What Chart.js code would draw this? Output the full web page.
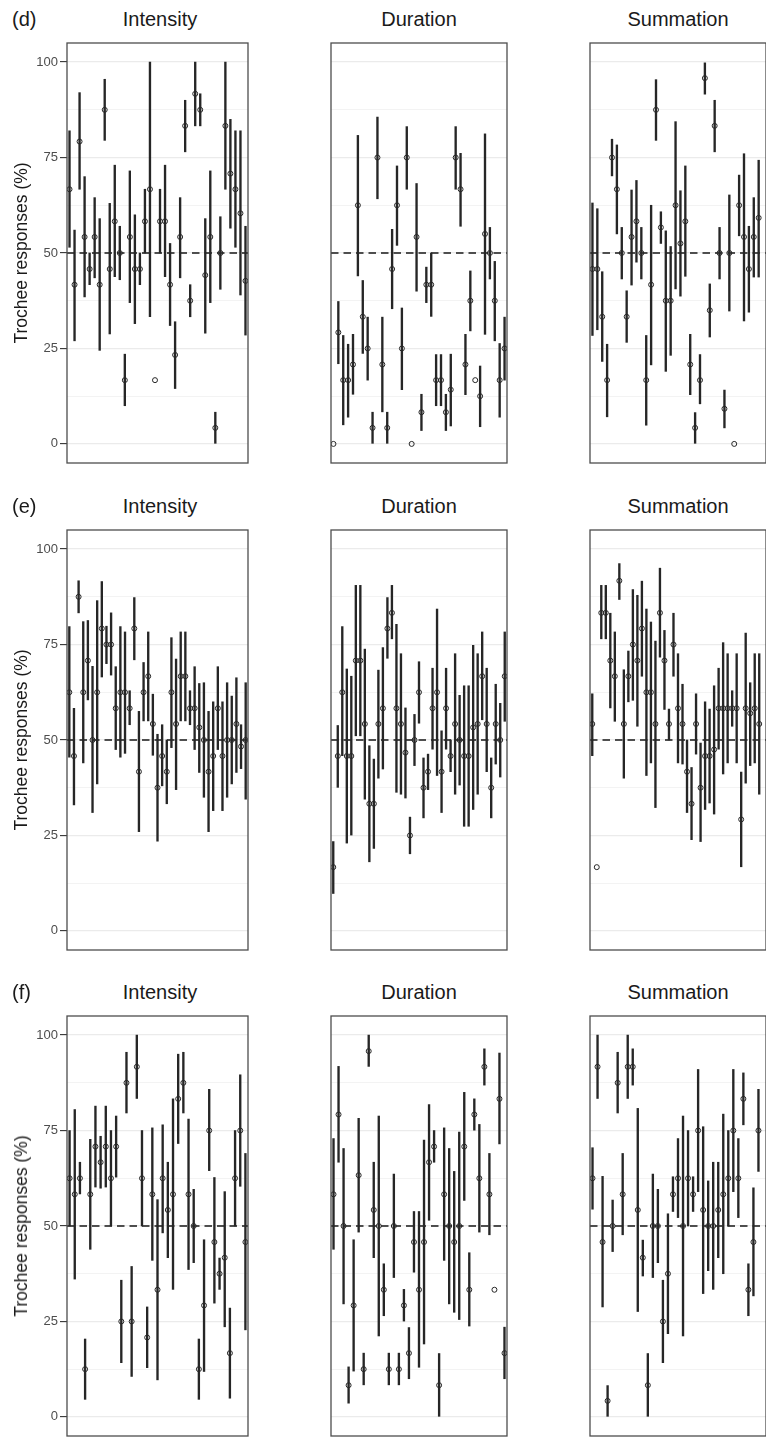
<!DOCTYPE html>
<html>
<head>
<meta charset="utf-8">
<script src="https://cdn.jsdelivr.net/npm/chart.js@4.4.0/dist/chart.umd.min.js"></script>
<style>
  body { margin: 0; width: 766px; height: 1443px; overflow: hidden; background: #fff; position: relative;
         font-family: "Liberation Sans", Arial, sans-serif; }
  .box { position: absolute; }
  .txt { position: absolute; white-space: nowrap; color: #1a1a1a; }
  .title { font-size: 20px; line-height: 20px; transform: translateX(-50%); }
  .tag { font-size: 20px; line-height: 20px; }
  .ytitle { font-size: 17.5px; line-height: 18px; transform: translate(-50%, -50%) rotate(-90deg); }
</style>
</head>
<body>
<script>
const ROW_LABELS = ['(d)', '(e)', '(f)'];
const CATEGORIES = ['Intensity', 'Duration', 'Summation'];
const Y_TICKS = [0, 25, 50, 75, 100];
const MINOR_TICKS = [12.5, 37.5, 62.5, 87.5];
const REF_LEVEL = 50;
const Y_TITLE = 'Trochee responses (%)';

// (d)
const dIntMean = [66.7, 41.7, 79.2, 54.2, 45.8, 54.2, 41.7, 87.5, 45.8, 58.3, 50, 16.7, 54.2, 45.8, 45.8, 58.3, 66.7, 16.7, 58.3, 58.3, 41.7, 23.3, 54.2, 83.3, 37.5, 91.7, 87.5, 44.2, 54.2, 4.2, 50, 83.3, 70.8, 66.7, 60.4, 42.7];
const dIntLow  = [51.5, 27, 66.7, 38.5, 41.7, 43.5, 24.5, 79.5, 28.8, 43.8, 43, 10, 37, 31.5, 41.7, 50, 33.3, null, 50, 43.8, 31, 14.5, 43.5, 76.5, 33.3, 83.3, 83.3, 29, 37, 0, 40.5, 66.7, 56.5, 51.5, 39, 28.5];
const dIntHigh = [82, 56, 92, 70, 50, 64.5, 59, 95.5, 63, 73, 57, 23.5, 71.5, 60, 50, 66.7, 100, null, 66.7, 73, 52.5, 32, 64.5, 90, 41.7, 100, 91.7, 59, 71.5, 8.3, 59.5, 100, 85, 82, 82, 57];

const dDurMean = [0, 29.2, 16.7, 16.7, 20.8, 62.5, 33.3, 25, 4.2, 75, 20.8, 4.2, 45.8, 62.5, 25, 75, 0, 54.2, 8.3, 41.7, 41.7, 16.7, 16.7, 8.3, 14.2, 75, 66.7, 20.8, 37.5, 16.7, 12.5, 55, 50, 37.5, 16.7, 25];
const dDurLow  = [null, 21, 5, 7, 13, 44, 23.7, 16.7, 0, 64.2, 8.4, 0, 35.4, 52, 14.2, 66.7, null, 40, 3.5, 37, 33.4, 10, 10, 3.5, 4.7, 66.7, 57, 12.9, 29.6, null, 4.5, 28.7, 43.2, 27, 7, 16.7];
const dDurHigh = [null, 37.3, 28.4, 26.1, 28.7, 80.8, 42.8, 33.2, 8.3, 85.6, 33.2, 8.3, 56.2, 72.8, 35.6, 83.1, null, 68.2, 13, 46.3, 50, 23.4, 23.4, 13, 23.5, 83.1, 76.1, 28.7, 45.3, null, 20.4, 81.2, 56.7, 47.8, 26.3, 33.2];

const dSumMean = [45.8, 45.8, 33.3, 16.7, 75, 66.7, 50, 33.3, 54.2, 58.3, 50, 16.7, 41.7, 87.5, 56.7, 37.5, 37.5, 62.5, 52.5, 58.3, 20.8, 4.2, 16.7, 95.8, 35, 83.3, 50, 9.2, 50, 0, 62.5, 54.2, 45.8, 54.2, 59.2];
const dSumLow  = [28.4, 29.9, 21.6, 7.1, 70.2, 55, 43.2, 26.6, 41.6, 47.6, 43.2, 4.9, 20.7, 79.5, 52.5, 19, 23.2, 40.6, 38.7, 43.9, 12.9, 0, 10.5, 91.6, 28, 76.5, 43.2, 4.2, 34.8, null, 54.5, 32.2, 34.5, 43.7, 43.7];
const dSumHigh = [63.1, 61.6, 45.1, 26.1, 79.8, 78.3, 56.7, 40.1, 66.5, 69, 56.7, 28.4, 62.5, 95.4, 60.8, 55.8, 51.7, 84.4, 66.3, 72.8, 28.7, 8.2, 23.4, 99.8, 41.9, 90, 56.7, 14.1, 65.2, null, 70.4, 76, 57, 64.5, 74.3];

// (e)
const eIntMean = [62.5, 45.8, 87.5, 62.5, 70.8, 50, 62.5, 79.2, 75, 75, 58.3, 62.5, 62.5, 58.3, 79.2, 41.7, 62.5, 66.7, 54.2, 37.5, 45.8, 41.7, 62.5, 54.2, 66.7, 66.7, 58.3, 58.3, 53.3, 50, 41.7, 45.8, 58.3, 45.8, 50, 50, 54.2, 48.3, 50];
const eIntLow  = [45.5, 33, 83.3, 44, 60.5, 31, 38.5, 66.5, 70, 67, 47.5, 45.5, 46.5, 54, 71, 26, 55, 55, 46, 23.5, 38, 33.3, 48, 37, 55, 55, 54, 47.5, 41.5, 35, 26, 31.5, 47.5, 31.5, 35, 38.5, 41.5, 42.5, 34.5];
const eIntHigh = [79.7, 58.3, 91.7, 81, 81.3, 69.3, 86.5, 91.5, 79.8, 83.3, 69.2, 79.7, 78.3, 62.9, 87.3, 57.5, 70.3, 78.3, 62, 51.5, 54, 50, 76.8, 71.2, 78.3, 78.3, 62.9, 69.2, 64.8, 65, 57.5, 60, 69.2, 60, 65, 61.5, 66.3, 54, 65];

const eDurMean = [16.7, 45.8, 62.5, 45.8, 45.8, 70.8, 70.8, 54.2, 33.3, 33.3, 54.2, 58.3, 79.2, 83.3, 58.3, 54.2, 46.7, 25, 50, 62.5, 37.5, 41.7, 58.3, 62.5, 41.7, 58.3, 45.8, 54.2, 50, 45.8, 45.8, 53.3, 54.2, 66.7, 54.2, 37.5, 54.2, 50, 66.7];
const eDurLow  = [9.8, 37.6, 45.9, 23, 25.1, 51.1, 51.1, 34.5, 18.1, 21.6, 40, 42.4, 71.4, 76.5, 36.3, 35.8, 34.8, 20.2, 43.3, 54.4, 29.6, 37, 47.6, 40.7, 31, 47.6, 41.7, 35.8, 38.2, 27.4, 27.4, 31.8, 35.8, 55.3, 41.7, 29.6, 43.7, 40.3, 54.9];
const eDurHigh = [23.4, 53.8, 79.7, 68.6, 66.7, 90.5, 90.5, 73.8, 48.5, 45, 68.3, 74.2, 87.3, 90.5, 80.3, 72.6, 58.4, 29.8, 56.7, 70.5, 45.3, 46.3, 68.8, 84.3, 52.4, 68.8, 50, 72.6, 61.7, 64.2, 64.2, 74.8, 72.6, 78.3, 68.8, 45.3, 64.6, 59.6, 78.3];

const eSumMean = [54.2, 16.7, 83.3, 83.3, 70.8, 66.7, 91.7, 54.2, 66.7, 75, 70.8, 79.2, 62.5, 62.5, 54.2, 83.3, 70.8, 54.2, 75, 58.3, 54.2, 41.7, 33.3, 54.2, 37.5, 45.8, 45.8, 47.5, 58.3, 58.3, 58.3, 58.3, 58.3, 29.2, 58.3, 57, 58.3, 54.2];
const eSumLow  = [45.9, null, 76.5, 76.5, 58.4, 54.9, 86.8, 40, 60, 60.4, 53.6, 66.7, 40.7, 44, 32.3, 71.7, 58, 50, 66.7, 44, 43.7, 31, 23.9, 46.3, 23.4, 31.8, 33.5, 30.6, 47.6, 41.1, 44, 53.6, 44, 16.8, 38.7, 43.3, 44, 35.8];
const eSumHigh = [62.1, null, 90.5, 90.5, 83.2, 78.3, 96.2, 68.4, 73.3, 89.4, 87.9, 91.6, 84.3, 80.9, 75.9, 95, 78.7, 58.1, 83.2, 72.6, 64.6, 50, 42.8, 62.1, 49.2, 60, 58.1, 64.2, 68.8, 75.5, 72.6, 62.9, 72.6, 41.6, 78, 65, 72.6, 72.6];

// (f)
const fIntMean = [62.5, 58.3, 62.5, 12.5, 58.3, 70.8, 66.7, 70.8, 62.5, 70.8, 25, 87.5, 25, 91.7, 62.5, 20.8, 58.3, 33.3, 62.5, 54.2, 58.3, 83.3, 87.5, 58.3, 50, 12.5, 29.2, 75, 45.8, 37.5, 41.7, 16.7, 62.5, 75, 45.8];
const fIntLow  = [50, 36.1, 58.4, 4.6, 43.9, 60.2, 59.9, 60.2, 50, 62.8, 14.2, 79.6, 10.6, 83.4, 50, 12.9, 41, 9.7, 48.2, 41.7, 33.4, 71.6, 79.6, 38.6, 40.4, 4.6, 11.9, 64.5, 29.8, 33.4, 23.6, 4.9, 50, 60.4, 22.8];
const fIntHigh = [75, 80.5, 66.7, 20.4, 72.7, 81.4, 73.5, 81.4, 75, 78.8, 35.8, 95.5, 39.4, 100, 75, 28.8, 75.7, 56.9, 76.5, 66.7, 83.3, 95, 95.5, 78, 59.6, 20.4, 46.4, 85.8, 62.7, 41.6, 59, 28.5, 75, 89.6, 69];

const fDurMean = [58.3, 79.2, 50, 8.3, 29.2, 63.3, 12.5, 95.8, 54.2, 50, 33.3, 12.5, 50, 12.5, 29.2, 16.7, 45.8, 33.3, 45.8, 66.7, 70.8, 8.3, 58.3, 50, 45.8, 50, 70.8, 33.3, 79.2, 62.5, 91.7, 58.3, 33.3, 83.3, 16.7];
const fDurLow  = [43.9, 66.7, 29.6, 3.6, 12, 48.4, 8.4, 91.8, 41.7, 21.2, 26.5, 8.4, 36.5, 8.4, 25.1, 10, 37.9, 13, 19.1, 51.5, 66.7, 0, 41, 29.6, 27.4, 25.5, 56.7, 23.8, 75.1, 48.4, 86.9, 47.7, null, 71.5, 10];
const fDurHigh = [72.9, 91.8, 70.3, 13.1, 46.4, 78.2, 16.7, 100, 66.7, 78.8, 40.1, 16.7, 63.6, 16.7, 33.4, 23.4, 53.8, 53.8, 72.5, 81.8, 75, 16.6, 75.7, 70.3, 64.3, 74.6, 85, 43, 83.3, 76.6, 96.4, 69, null, 95.3, 23.5];

const fSumMean = [62.5, 91.7, 45.8, 4.2, 50, 87.5, 58.3, 91.7, 91.7, 54.2, 41.7, 8.3, 50, 50, 25, 37.5, 58.3, 62.5, 50, 62.5, 58.3, 75, 54.2, 50, 50, 54.2, 58.3, 62.5, 75, 62.5, 83.3, 33.3, 45.8, 75];
const fSumLow  = [54.4, 83.4, 28.8, 0, 43.3, 79.6, 47.7, 83.4, 86.9, 27.6, 36.9, 0, 36.5, 40.4, 14.2, 21.8, 53.8, 52.2, 21.2, 50, 53.8, 59, 32.3, 38.3, 33.4, 41.7, 37.5, 50, 59, 52.2, 76.5, 26.5, 31.7, 64.3];
const fSumHigh = [70.5, 100, 63, 8.2, 56.8, 95.5, 69, 100, 96.4, 80.8, 46.3, 16.6, 63.6, 59.6, 35.8, 53.2, 62.9, 72.9, 78.8, 75, 62.9, 91, 76, 61.8, 66.7, 66.7, 79.3, 75, 91, 72.9, 90.1, 40.1, 60, 85.8];

// layout
const ROW_TOP = [38, 524.5, 1011];
const COL_LEFT = [67, 326, 585];
const PANEL_W = 186;
const PANEL_H = 430;
const INK = '#262626';
const FONT = '"Liberation Sans", Arial, sans-serif';

const panels = [
  [dIntMean, dIntLow, dIntHigh], [dDurMean, dDurLow, dDurHigh], [dSumMean, dSumLow, dSumHigh],
  [eIntMean, eIntLow, eIntHigh], [eDurMean, eDurLow, eDurHigh], [eSumMean, eSumLow, eSumHigh],
  [fIntMean, fIntLow, fIntHigh], [fDurMean, fDurLow, fDurHigh], [fSumMean, fSumLow, fSumHigh]
];

const panelBorder = {
  id: 'panelBorder',
  afterDraw(chart) {
    const a = chart.chartArea, ctx = chart.ctx;
    ctx.save();
    ctx.strokeStyle = '#4d4d4d';
    ctx.lineWidth = 1.3;
    ctx.strokeRect(a.left, a.top, a.right - a.left, a.bottom - a.top);
    ctx.restore();
  }
};

function addText(cls, text, left, top) {
  const d = document.createElement('div');
  d.className = 'txt ' + cls;
  d.textContent = text;
  d.style.left = left + 'px';
  d.style.top = top + 'px';
  document.body.appendChild(d);
}

panels.forEach((p, k) => {
  const row = Math.floor(k / 3), col = k % 3;
  const [mean, low, high] = p;
  const n = panels[row * 3][0].length; // all panels of a row share the participant count
  const withAxis = col === 0;
  const axisW = withAxis ? COL_LEFT[0] : 0;

  const box = document.createElement('div');
  box.className = 'box';
  box.style.left = (withAxis ? 0 : COL_LEFT[col]) + 'px';
  box.style.top = ROW_TOP[row] + 'px';
  const canvas = document.createElement('canvas');
  canvas.width = axisW + PANEL_W;
  canvas.height = PANEL_H;
  box.appendChild(canvas);
  document.body.appendChild(box);

  const bars = [];
  mean.forEach((m, i) => { if (low[i] !== null) bars.push({ x: i, y: [low[i], high[i]] }); });
  const points = mean.map((m, i) => ({ x: i, y: m }));
  const xMin = -0.5, xMax = n - 0.5;

  new Chart(canvas, {
    type: 'bar',
    data: {
      datasets: [
        { type: 'line', data: points, showLine: false, pointRadius: 2.5, pointBorderWidth: 1,
          pointBorderColor: INK, pointBackgroundColor: 'rgba(0,0,0,0)', order: 0 },
        { type: 'bar', data: bars, backgroundColor: INK, borderWidth: 0, barThickness: 1.7,
          grouped: false, order: 1 },
        { type: 'line', data: [{ x: xMin, y: REF_LEVEL }, { x: xMax, y: REF_LEVEL }], borderColor: '#1a1a1a',
          borderWidth: 1.4, borderDash: [7.5, 5], pointRadius: 0, order: 2 }
      ]
    },
    options: {
      responsive: false,
      animation: false,
      events: [],
      layout: { padding: 0 },
      plugins: { legend: { display: false }, tooltip: { enabled: false } },
      scales: {
        x: { type: 'linear', min: xMin, max: xMax, display: false, offset: false },
        y: {
          type: 'linear', min: -5, max: 105,
          afterBuildTicks: s => { s.ticks = Y_TICKS.concat(MINOR_TICKS).sort((a, b) => a - b).map(v => ({ value: v })); },
          afterFit: s => { s.width = axisW; s.paddingTop = 0; s.paddingBottom = 0; },
          border: { display: false },
          ticks: {
            display: withAxis, padding: 2, color: '#4d4d4d', font: { family: FONT, size: 13 },
            callback: v => (Y_TICKS.includes(v) ? v : '')
          },
          grid: {
            color: '#ebebeb',
            lineWidth: c => (c.tick && Y_TICKS.includes(c.tick.value) ? 1.2 : 0.6),
            drawTicks: withAxis, tickLength: 7, tickWidth: 1.1,
            tickColor: c => (c.tick && Y_TICKS.includes(c.tick.value) ? '#333' : 'rgba(0,0,0,0)')
          }
        }
      }
    },
    plugins: [panelBorder]
  });

  addText('title', CATEGORIES[col], COL_LEFT[col] + PANEL_W / 2, ROW_TOP[row] - 29);
  if (withAxis) {
    addText('tag', ROW_LABELS[row], 12, ROW_TOP[row] - 29);
    addText('ytitle', Y_TITLE, 20.5, ROW_TOP[row] + PANEL_H / 2);
  }
});
</script>
</body>
</html>
